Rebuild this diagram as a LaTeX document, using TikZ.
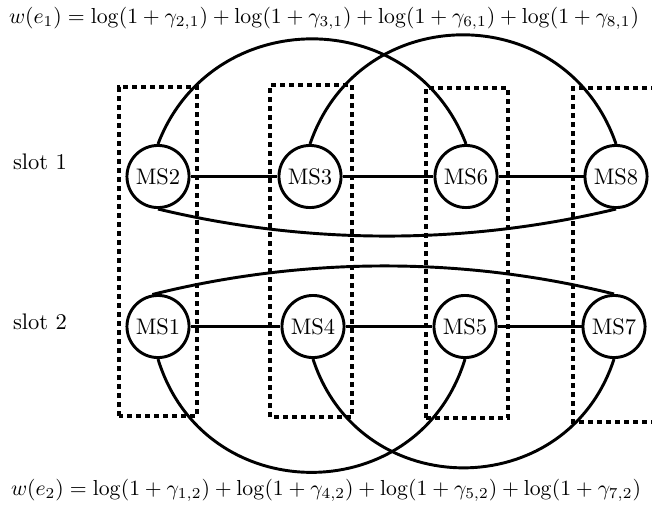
\documentclass[tikz,border=0pt]{standalone}
\begin{document}
\begin{tikzpicture}[x=0.4444pt,y=0.4444pt,
  ms/.style={circle,draw,line width=1.3pt,minimum size=27.6pt,inner sep=0pt},
  link/.style={line width=1.3pt},
  slotbox/.style={line width=1.35pt,dash pattern=on 2.4pt off 1.6pt}]
\useasboundingbox (0,0) rectangle (652,507);
% dashed slot boxes
\draw[slotbox] (119,91) rectangle (197,420);
\draw[slotbox] (270,90) rectangle (352,422);
\draw[slotbox] (426,89) rectangle (508,419);
\draw[slotbox] (656,419) -- (573,419) -- (573,85) -- (656,85);
% nodes
\node[ms] (MS2) at (158,330.5) {MS2};
\node[ms] (MS3) at (310,330.5) {MS3};
\node[ms] (MS6) at (466,330.5) {MS6};
\node[ms] (MS8) at (616,330.5) {MS8};
\node[ms] (MS1) at (158,180.5) {MS1};
\node[ms] (MS4) at (313,180.5) {MS4};
\node[ms] (MS5) at (465,180.5) {MS5};
\node[ms] (MS7) at (614,180.5) {MS7};
% labels
\node (s1) at (40,345) {slot 1};
\node (s2) at (40,185) {slot 2};
\node (w1) at (324,489) {\scalebox{0.965}{$w(e_1)=\log(1+\gamma_{2,1})+\log(1+\gamma_{3,1})+\log(1+\gamma_{6,1})+\log(1+\gamma_{8,1})$}};
\node (w2) at (326,17) {\scalebox{0.965}{$w(e_2)=\log(1+\gamma_{1,2})+\log(1+\gamma_{4,2})+\log(1+\gamma_{5,2})+\log(1+\gamma_{7,2})$}};
% straight links
\draw[link] (MS2) -- (MS3);
\draw[link] (MS3) -- (MS6);
\draw[link] (MS6) -- (MS8);
\draw[link] (MS1) -- (MS4);
\draw[link] (MS4) -- (MS5);
\draw[link] (MS5) -- (MS7);
% arcs
\draw[link] (MS2.north) to[out=69,in=111,looseness=1.25] (MS6.north);
\draw[link] (MS3.north) to[out=71,in=109,looseness=1.29] (MS8.north);
\draw[link] (MS2.south) to[out=-13.5,in=-166.5,looseness=0.865] (MS8.south);
\draw[link] (MS1.100) to[out=14,in=166,looseness=0.866] (MS7.north);
\draw[link] (MS1.south) to[out=-73,in=-107,looseness=1.32] (MS5.south);
\draw[link] (MS4.south) to[out=-72,in=-108,looseness=1.3] (MS7.south);
\end{tikzpicture}
\end{document}
